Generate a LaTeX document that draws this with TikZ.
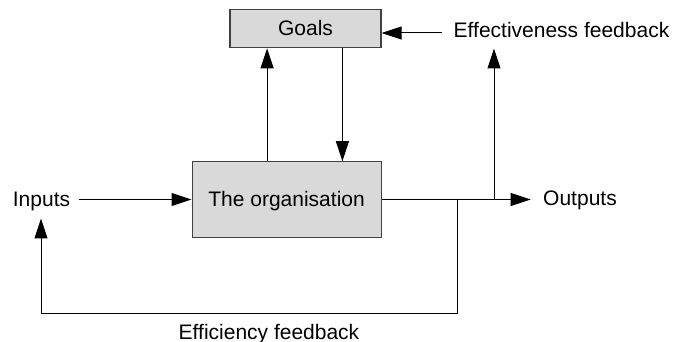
\documentclass[tikz,border=0pt]{standalone}
\usepackage{fontspec}
\setmainfont{Liberation Sans}
\usetikzlibrary{arrows.meta,calc}
\definecolor{boxfill}{HTML}{D9D9D9}
\definecolor{boxline}{HTML}{404040}

\begin{document}
\begin{tikzpicture}[x=1pt,y=-1pt,
  font=\fontsize{21}{25}\selectfont,
  line width=1pt,
  lbl/.style={inner sep=0pt, text height=15pt, text depth=0pt},
  box/.style={lbl, draw=boxline, line width=1.2pt, fill=boxfill},
  arr/.style={-{Triangle[length=20pt,width=13pt]}}]
\useasboundingbox (0,0) rectangle (673,342);

% the two boxes
\node[box, minimum width=151pt, minimum height=38.5pt] (goals) at (305.5,28.5) {Goals};
\node[box, minimum width=189pt, minimum height=75.5pt] (org) at (286.6,199.5) {The organisation};

% free labels
\node[lbl] (in) at (41.5,199.5) {Inputs};
\node[lbl] (out) at (580,198.5) {Outputs};
\node[lbl] (eff) at (561.5,30.5) {Effectiveness feedback};
\node[lbl] (effc) at (269,331.5) {Efficiency feedback};

% branching points on the output line
\coordinate (j1) at (457,199.5);
\coordinate (j2) at (494,199.5);
\coordinate (lp) at (457,313.3);
\coordinate (ea) at (441.7,33);

% main flow
\draw[arr] ($(in.east)+(8,0)$) -- (org.west);
\draw[arr] (org.east) -- ($(out.west |- org.east)+(-12,0)$);

% links between the organisation and its goals
\coordinate (up) at ($(org.north west)+(75.6,0)$);
\coordinate (dn) at ($(goals.south west)+(113,0)$);
\draw[arr] (up) -- (up |- goals.south);
\draw[arr] (dn) -- (dn |- org.north);

% effectiveness feedback
\draw[arr] (j2) -- ($(j2 |- eff.south)+(0,10)$);
\draw[arr] (ea) -- (ea -| goals.east);

% efficiency feedback loop
\draw[arr] (j1) -- (lp) -| ($(in.south)+(-0.5,11)$);
\end{tikzpicture}
\end{document}
